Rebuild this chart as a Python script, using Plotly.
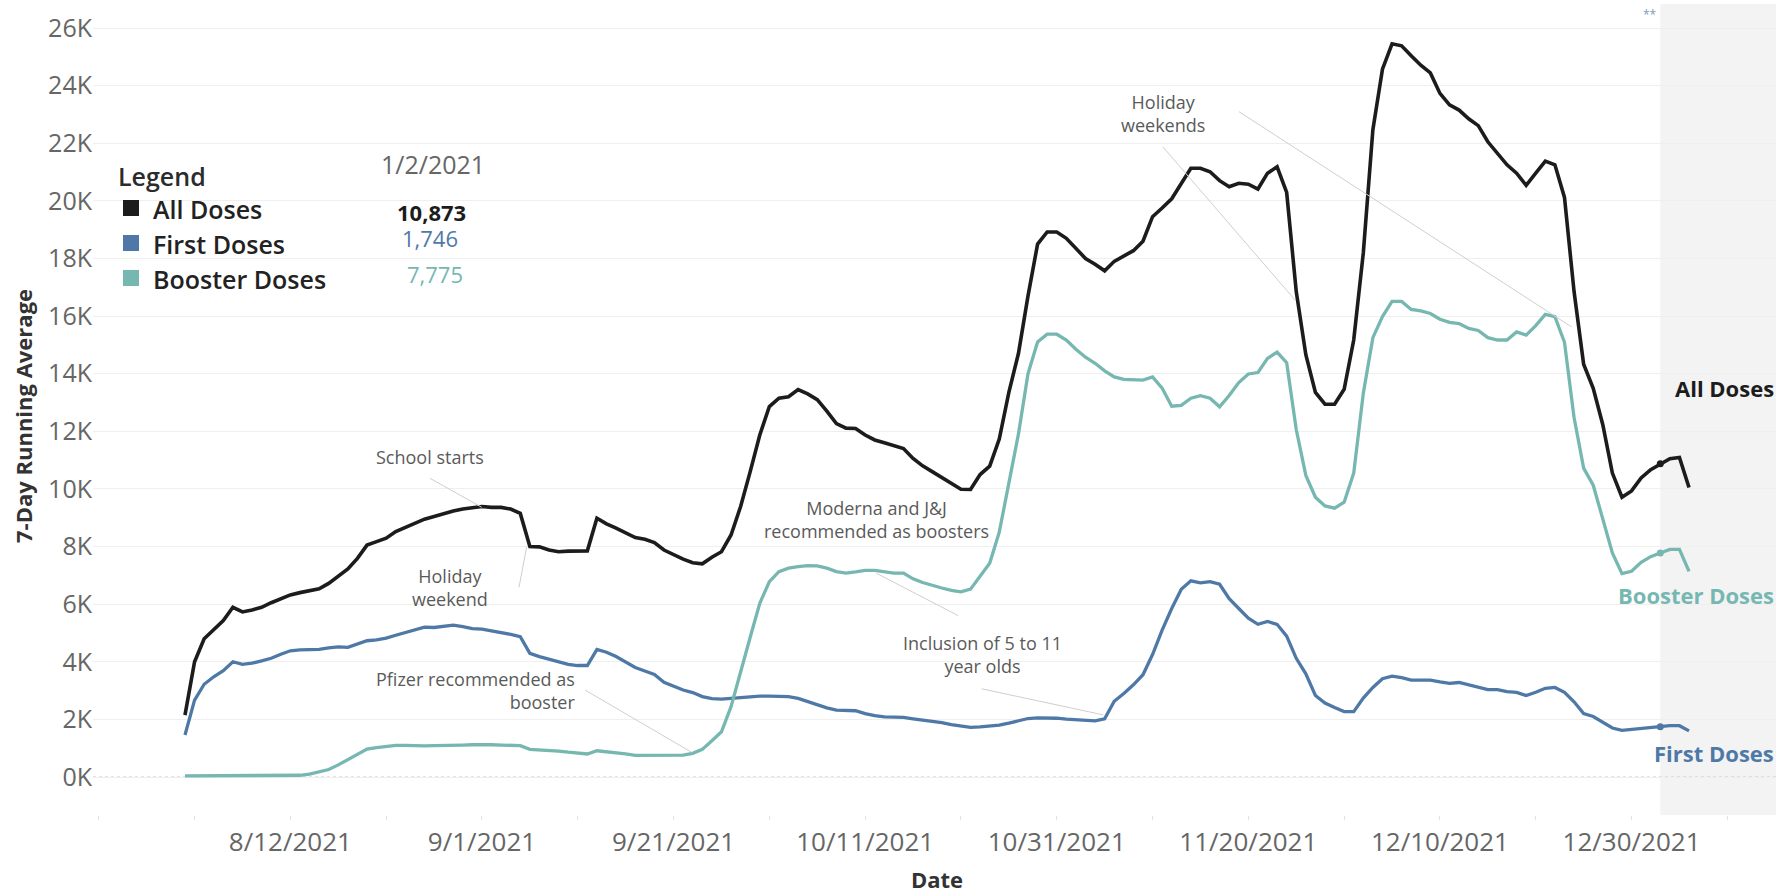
import pandas as pd
import plotly.graph_objects as go

# ---------------- data ----------------
START_DATE = "2021-08-01"
ALL_DOSES = [2150, 4000, 4800, 5130, 5430, 5890, 5730, 5800, 5890, 6050,
             6200, 6320, 6400, 6470, 6530, 6720, 6990, 7220, 7590, 8050,
             8170, 8290, 8520, 8670, 8810, 8950, 9040, 9150, 9230, 9300,
             9360, 9390, 9360, 9360, 9300, 9150, 8000, 7990, 7880, 7820,
             7840, 7850, 7850, 8980, 8790, 8640, 8480, 8310, 8250, 8140,
             7880, 7710, 7560, 7440, 7400, 7630, 7820, 8400, 9390, 10600,
             11870, 12860, 13150, 13200, 13450, 13300, 13100, 12700, 12270, 12110,
             12100, 11870, 11700, 11600, 11500, 11400, 11060, 10800, 10600, 10390,
             10200, 9990, 9980, 10500, 10790, 11730, 13350, 14700, 16700, 18500,
             18920, 18920, 18700, 18350, 18000, 17800, 17570, 17900, 18100, 18270,
             18600, 19450, 19750, 20070, 20600, 21130, 21130, 21010, 20700, 20490,
             20610, 20580, 20410, 20960, 21180, 20290, 16850, 14660, 13350, 12940,
             12940, 13460, 15170, 18190, 22470, 24570, 25450, 25380, 25040, 24710,
             24440, 23730, 23330, 23150, 22850, 22610, 22050, 21630, 21250, 20960,
             20540, 20960, 21380, 21250, 20120, 16850, 14330, 13490, 12230, 10550,
             9710, 9930, 10380, 10670, 10873, 11050, 11090, 10050]
FIRST_DOSES = [1460, 2670, 3220, 3480, 3690, 4000, 3910, 3950, 4030, 4120,
               4260, 4380, 4410, 4410, 4430, 4480, 4520, 4500, 4610, 4730,
               4760, 4820, 4920, 5020, 5130, 5200, 5190, 5240, 5270, 5220,
               5150, 5130, 5070, 5030, 4950, 4870, 4290, 4180, 4090, 3990,
               3910, 3870, 3870, 4430, 4330, 4180, 4000, 3800, 3680, 3560,
               3290, 3140, 3020, 2930, 2790, 2720, 2700, 2730, 2760, 2790,
               2810, 2810, 2810, 2790, 2730, 2620, 2500, 2400, 2320, 2300,
               2300, 2200, 2130, 2090, 2080, 2070, 2020, 1980, 1940, 1890,
               1820, 1760, 1720, 1740, 1760, 1800, 1870, 1950, 2030, 2050,
               2050, 2040, 2010, 1990, 1960, 1950, 2020, 2630, 2900, 3200,
               3550, 4250, 5100, 5850, 6520, 6810, 6740, 6780, 6690, 6190,
               5850, 5510, 5300, 5400, 5300, 4890, 4120, 3580, 2830, 2570,
               2410, 2270, 2270, 2740, 3110, 3410, 3500, 3450, 3360, 3360,
               3360, 3300, 3250, 3280, 3200, 3110, 3030, 3030, 2960, 2940,
               2830, 2940, 3080, 3110, 2940, 2610, 2200, 2100, 1900, 1700,
               1620, 1650, 1700, 1730, 1746, 1780, 1780, 1600]
BOOSTER_DOSES = [40, 40, 40, 40, 40, 40, 40, 40, 40, 40,
                 40, 40, 60, 100, 180, 260, 420, 610, 800, 970,
                 1020, 1050, 1100, 1100, 1080, 1080, 1090, 1090, 1100, 1110,
                 1120, 1130, 1120, 1110, 1110, 1090, 960, 940, 940, 900,
                 860, 820, 800, 910, 880, 850, 800, 750, 750, 750,
                 750, 760, 760, 820, 960, 1260, 1570, 2440, 3600, 4850,
                 6030, 6780, 7130, 7250, 7300, 7340, 7330, 7250, 7130, 7080,
                 7120, 7175, 7175, 7130, 7080, 7080, 6880, 6750, 6650, 6560,
                 6480, 6430, 6520, 6970, 7420, 8500, 10180, 11900, 14000, 15100,
                 15370, 15370, 15170, 14850, 14570, 14360, 14100, 13890, 13800, 13790,
                 13780, 13890, 13500, 12870, 12900, 13150, 13240, 13150, 12850, 13240,
                 13690, 13990, 14040, 14530, 14750, 14380, 12060, 10470, 9710, 9410,
                 9330, 9540, 10550, 13320, 15250, 15980, 16510, 16510, 16230, 16180,
                 16090, 15890, 15780, 15740, 15570, 15500, 15250, 15170, 15170, 15450,
                 15340, 15670, 16060, 15980, 15090, 12480, 10720, 10130, 8960, 7780,
                 7060, 7140, 7450, 7650, 7775, 7900, 7900, 7140]

SERIES_NAMES = ["All Doses", "First Doses", "Booster Doses"]
MARK_DATE = "2022-01-02"
MARK_LABEL = "1/2/2021"

TICK_DATES = ["2021-08-12", "2021-09-01", "2021-09-21", "2021-10-11",
              "2021-10-31", "2021-11-20", "2021-12-10", "2021-12-30"]
TICK_LABELS = ["8/12/2021", "9/1/2021", "9/21/2021", "10/11/2021",
               "10/31/2021", "11/20/2021", "12/10/2021", "12/30/2021"]
Y_TICKS = [0, 2000, 4000, 6000, 8000, 10000, 12000, 14000,
           16000, 18000, 20000, 22000, 24000, 26000]
Y_TICK_LABELS = ["0K", "2K", "4K", "6K", "8K", "10K", "12K", "14K",
                 "16K", "18K", "20K", "22K", "24K", "26K"]

EVENTS = ["School starts", "Holiday<br>weekend", "Pfizer recommended as<br>booster",
          "Moderna and J&J<br>recommended as boosters",
          "Inclusion of 5 to 11<br>year olds", "Holiday<br>weekends"]

# ---------------- styling ----------------
FONT = "Open Sans"
BLACK = "#1c1c1c"
BLUE = "#4e79a7"
TEAL = "#76b7b2"
COLORS = [BLACK, BLUE, TEAL]
W, H = 1787, 896
ML, MR, MT, MB = 93, 11, 4, 81
PW, PH = W - ML - MR, H - MT - MB


def px(x):
    return (x - ML) / PW


def py(y):
    return (H - MB - y) / PH


dates = pd.date_range(START_DATE, periods=len(ALL_DOSES), freq="D")
mark_idx = list(dates).index(pd.Timestamp(MARK_DATE))
series = [ALL_DOSES, FIRST_DOSES, BOOSTER_DOSES]
widths = [3.6, 3.3, 3.3]

fig = go.Figure()
for name, vals, col, w in zip(SERIES_NAMES, series, COLORS, widths):
    fig.add_trace(go.Scatter(x=dates, y=vals, mode="lines", name=name,
                             line=dict(color=col, width=w), showlegend=False,
                             hoverinfo="skip"))
for name, vals, col in zip(SERIES_NAMES, series, COLORS):
    fig.add_trace(go.Scatter(x=[dates[mark_idx]], y=[vals[mark_idx]], mode="markers",
                             marker=dict(color=col, size=7), showlegend=False,
                             hoverinfo="skip"))

x_range = ["2021-07-22 09:32", "2022-01-14 01:55"]

shapes = [
    dict(type="rect", xref="x", yref="paper", x0=MARK_DATE, x1=x_range[1], y0=0, y1=1,
         fillcolor="#f3f3f3", line=dict(width=0), layer="between"),
    dict(type="line", xref="paper", yref="y", x0=0, x1=1, y0=0, y1=0,
         line=dict(color="#c8c8c8", width=1, dash="dot"), layer="between"),
]

annotations = []
GREY_TXT = "#5a5a5a"
LINE_GREY = "#cfcfcf"

ev_pos = [(430, 456.7, "center", "center"), (450, 587.5, "center", "center"),
          (577, 690.8, "right", "right"), (876.5, 519.3, "center", "center"),
          (982.3, 654.8, "center", "center"), (1162.7, 113.2, "center", "center")]
for txt, (cx, cy, al, xa) in zip(EVENTS, ev_pos):
    annotations.append(dict(text=txt, x=px(cx), y=py(cy), xref="paper", yref="paper",
                            showarrow=False, align=al, xanchor=xa, yanchor="middle",
                            font=dict(family=FONT, size=18, color=GREY_TXT)))
leaders = [((430, 478.3), (481.7, 507.3)), ((519, 587.3), (526.7, 546.7)),
           ((585, 690), (691.7, 752.3)), ((876.7, 573.4), (958.3, 615.7)),
           ((981.7, 688.8), (1103.3, 714.9)), ((1163, 147), (1295, 300)),
           ((1239, 111.7), (1571.7, 327))]
for (a, b) in leaders:
    shapes.append(dict(type="line", xref="paper", yref="paper", x0=px(a[0]), y0=py(a[1]),
                       x1=px(b[0]), y1=py(b[1]), line=dict(color=LINE_GREY, width=1)))

# legend block
annotations.append(dict(text="Legend", x=px(116), y=py(176), xref="paper", yref="paper",
                        showarrow=False, xanchor="left", yanchor="middle",
                        font=dict(family=FONT, size=25, color="#2b2b2b", weight=600)))
leg_y = [209, 244, 279]
for name, col, yy in zip(SERIES_NAMES, COLORS, leg_y):
    shapes.append(dict(type="rect", xref="paper", yref="paper", x0=px(123), x1=px(139),
                       y0=py(yy - 9), y1=py(yy + 7), fillcolor=col, line=dict(width=0)))
    annotations.append(dict(text=name, x=px(151), y=py(yy), xref="paper", yref="paper",
                            showarrow=False, xanchor="left", yanchor="middle",
                            font=dict(family=FONT, size=25, color="#222222", weight=600)))
annotations.append(dict(text=MARK_LABEL, x=px(433), y=py(164), xref="paper", yref="paper",
                        showarrow=False, xanchor="center", yanchor="middle",
                        font=dict(family=FONT, size=25, color="#666666")))
val_pos = [(431, 211.7), (430, 238), (435, 274)]
for vals, col, (vx, vy), i in zip(series, COLORS, val_pos, range(3)):
    t = f"{vals[mark_idx]:,}"
    if i == 0:
        t = f"<b>{t}</b>"
    annotations.append(dict(text=t, x=px(vx), y=py(vy), xref="paper", yref="paper",
                            showarrow=False, xanchor="center", yanchor="middle",
                            font=dict(family=FONT, size=22, color=col)))

right_y = [387.5, 753, 595]
for name, col, yy in zip(SERIES_NAMES, COLORS, right_y):
    annotations.append(dict(text=f"<b>{name}</b>", x=px(1776), y=py(yy), xref="paper",
                            yref="paper", showarrow=False, xanchor="right", yanchor="middle",
                            font=dict(family=FONT, size=22, color=col)))

annotations.append(dict(text="**", x=px(1650), y=py(14), xref="paper", yref="paper",
                        showarrow=False, xanchor="center", yanchor="middle",
                        font=dict(family=FONT, size=12, color="#7f9cc0")))

annotations.append(dict(text="<b>7-Day Running Average</b>", x=px(23), y=py(416),
                        xref="paper", yref="paper", showarrow=False, textangle=-90,
                        xanchor="center", yanchor="middle",
                        font=dict(family=FONT, size=22, color="#333333")))
annotations.append(dict(text="<b>Date</b>", x=px(937), y=py(879), xref="paper", yref="paper",
                        showarrow=False, xanchor="center", yanchor="middle",
                        font=dict(family=FONT, size=22, color="#333333")))

fig.update_layout(
    width=W, height=H,
    margin=dict(l=ML, r=MR, t=MT, b=MB),
    paper_bgcolor="white", plot_bgcolor="white",
    font=dict(family=FONT),
    shapes=shapes, annotations=annotations,
    xaxis=dict(type="date", range=x_range, tickmode="array", tickvals=TICK_DATES,
               ticktext=TICK_LABELS, showgrid=False, zeroline=False, showline=False,
               ticks="outside", ticklen=4, tickcolor="#e2e2e2",
               tickfont=dict(family=FONT, size=26, color="#666666"),
               minor=dict(tickmode="linear", tick0="2021-07-23", dtick=10 * 86400000,
                          ticks="outside", ticklen=4, tickcolor="#e2e2e2", showgrid=False)),
    yaxis=dict(range=[-1319, 26833], tickmode="array", tickvals=Y_TICKS,
               ticktext=Y_TICK_LABELS, showgrid=True, gridcolor="#efefef", gridwidth=1,
               zeroline=False, showline=False, ticks="",
               tickfont=dict(family=FONT, size=25, color="#666666")),
)

fig.write_html("out.html", config={"displayModeBar": False},
               post_script="document.body.style.margin='0';document.body.style.overflow='hidden';")
